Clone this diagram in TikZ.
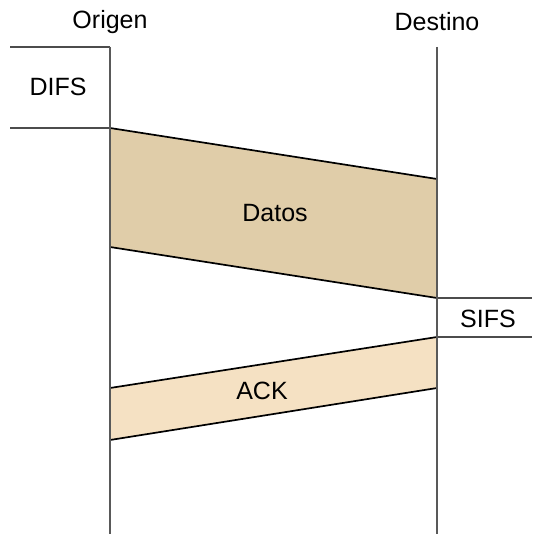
\documentclass[tikz,border=0pt]{standalone}
\usepackage{fontspec}
\setmainfont{Liberation Sans}
\begin{document}
\begin{tikzpicture}[x=1pt,y=-1pt,
  lbl/.style={font=\fontsize{25}{29}\selectfont, inner sep=0pt},
  life/.style={draw=black!65, line width=2.2pt},
  tick/.style={draw=black!70, line width=2pt},
  frame/.style={draw=black, line width=1.7pt, line join=miter}]
\useasboundingbox (0,0) rectangle (532,534);
\node[lbl] (orig) at (110,22) {Origen};
\node[lbl] (dest) at (437,22) {Destino};
\coordinate (o0) at (110,47);
\coordinate (o1) at (110,534);
\coordinate (d0) at (437,47);
\coordinate (d1) at (437,534);
% DIFS
\coordinate (difsA) at (10,47);
\coordinate (difsB) at (10,128);
\coordinate (oD) at (110,128);
\draw[tick] (difsA) -- (o0);
\draw[tick] (difsB) -- (oD);
\node[lbl] (difs) at (58,87) {DIFS};
% SIFS
\coordinate (sifsA) at (532,298);
\coordinate (sifsB) at (532,337);
\coordinate (dS1) at (437,298);
\coordinate (dS2) at (437,337);
\draw[tick] (dS1) -- (sifsA);
\draw[tick] (dS2) -- (sifsB);
\node[lbl] (sifs) at (488,319) {SIFS};
% Datos
\filldraw[frame, fill={rgb,255:red,224;green,205;blue,169}]
  (oD) -- (437,179) -- (dS1) -- (110,247) -- cycle;
\node[lbl] (datos) at (275,213) {Datos};
% ACK
\filldraw[frame, fill={rgb,255:red,245;green,225;blue,195}]
  (110,388) -- (dS2) -- (437,388) -- (110,440) -- cycle;
\node[lbl] (ack) at (262,391) {ACK};
% lifelines
\draw[life] (o0) -- (o1);
\draw[life] (d0) -- (d1);
\end{tikzpicture}
\end{document}
